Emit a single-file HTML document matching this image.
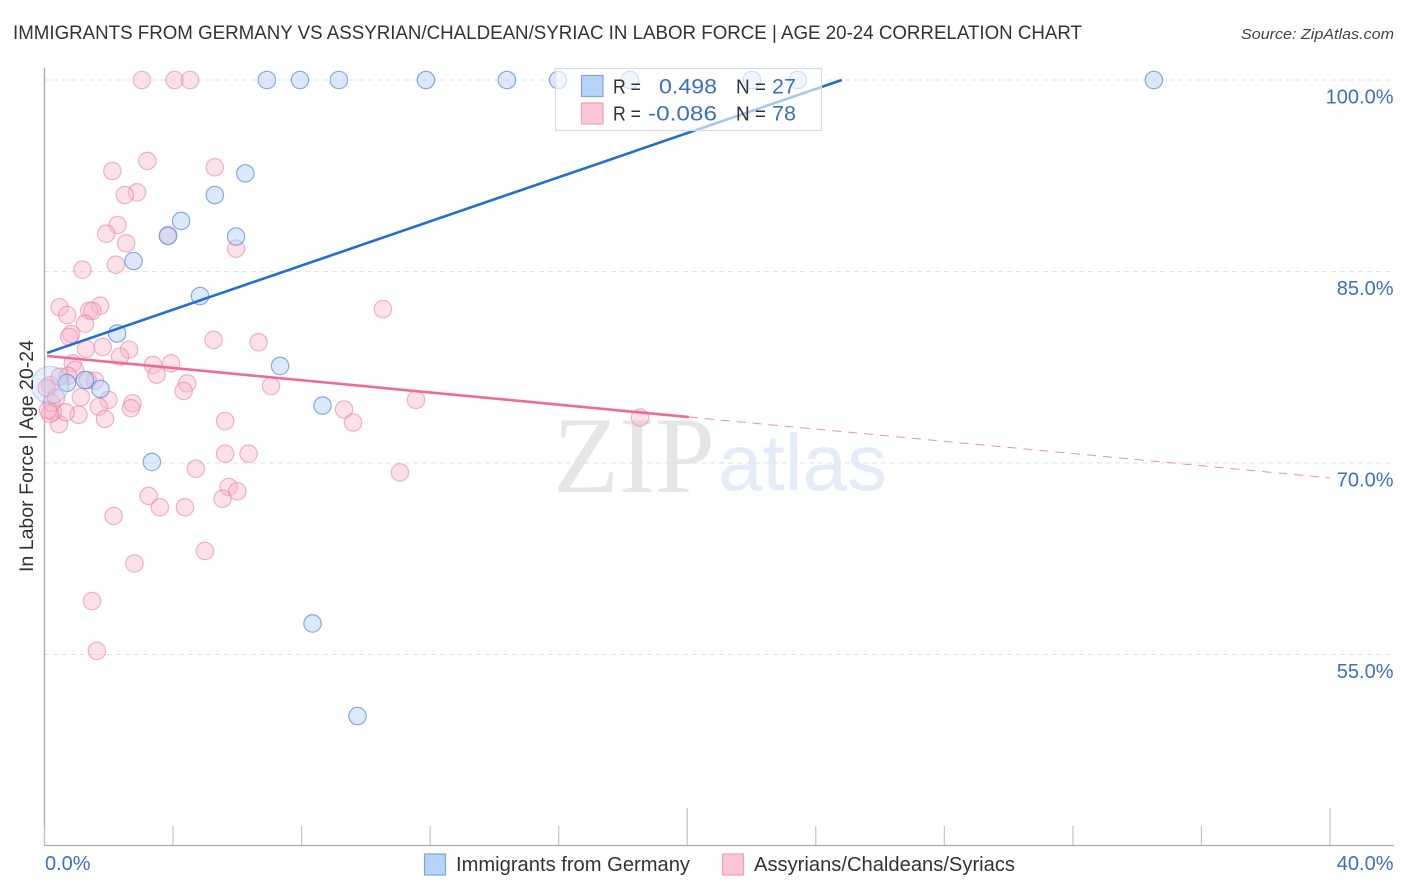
<!DOCTYPE html>
<html lang="en">
<head>
<meta charset="utf-8">
<title>Immigrants from Germany vs Assyrian/Chaldean/Syriac in Labor Force | Age 20-24 Correlation Chart</title>
<style>
html,body{margin:0;padding:0;background:#fff;}
svg{display:block;font-family:"Liberation Sans",sans-serif;}
</style>
</head>
<body>
<svg id="chart" xmlns="http://www.w3.org/2000/svg" width="1406" height="892" viewBox="0 0 1406 892">
  <rect width="1406" height="892" fill="#fff"/>
  <text x="13" y="39" font-size="19.5" fill="#333" textLength="1069" lengthAdjust="spacingAndGlyphs">IMMIGRANTS FROM GERMANY VS ASSYRIAN/CHALDEAN/SYRIAC IN LABOR FORCE | AGE 20-24 CORRELATION CHART</text>
  <text x="1241" y="39" font-size="15" font-style="italic" fill="#444" textLength="153" lengthAdjust="spacingAndGlyphs">Source: ZipAtlas.com</text>
  <g id="watermark">
    <text x="553" y="492" font-family="'Liberation Serif',serif" font-size="109" fill="#e6e6e6" textLength="162" lengthAdjust="spacingAndGlyphs">ZIP</text>
    <text x="718" y="490" font-size="80" fill="#e4ecfa" textLength="169" lengthAdjust="spacingAndGlyphs">atlas</text>
  </g>
  <g id="grid"></g>
  <g id="axes"></g>
  <g id="points"></g>
  <g id="trends"></g>
  <text transform="translate(33,456) rotate(-90)" text-anchor="middle" font-size="19" fill="#333" textLength="232" lengthAdjust="spacingAndGlyphs">In Labor Force | Age 20-24</text>

  <g>
    <rect x="555.5" y="68.5" width="266" height="62" fill="#fff" fill-opacity="0.62" stroke="#dcdcdc" stroke-width="1.2"/>
    <rect x="581.5" y="75.5" width="21.5" height="21" fill="#b6d3f8" stroke="#7ba5e4" stroke-width="1.2"/>
    <rect x="581.5" y="103" width="21.5" height="21" fill="#fcc6d8" stroke="#f0a0bd" stroke-width="1.2"/>
    <text x="613" y="93.5" font-size="20" fill="#333" textLength="28" lengthAdjust="spacingAndGlyphs">R =</text>
    <text x="717" y="93.5" font-size="21.5" fill="#3b6fc8" text-anchor="end" textLength="58" lengthAdjust="spacingAndGlyphs">0.498</text>
    <text x="736" y="93.5" font-size="20" fill="#333" textLength="30" lengthAdjust="spacingAndGlyphs">N =</text>
    <text x="772" y="93.5" font-size="21.5" fill="#3b6fc8">27</text>
    <text x="613" y="120.5" font-size="20" fill="#333" textLength="28" lengthAdjust="spacingAndGlyphs">R =</text>
    <text x="717" y="120.5" font-size="21.5" fill="#3b6fc8" text-anchor="end" textLength="69" lengthAdjust="spacingAndGlyphs">-0.086</text>
    <text x="736" y="120.5" font-size="20" fill="#333" textLength="30" lengthAdjust="spacingAndGlyphs">N =</text>
    <text x="772" y="120.5" font-size="21.5" fill="#3b6fc8">78</text>
  </g>

  <g>
    <rect x="424.5" y="854" width="21" height="21" fill="#b6d3f8" stroke="#7ba5e4" stroke-width="1.2"/>
    <text x="456" y="871" font-size="20" fill="#333" textLength="234" lengthAdjust="spacingAndGlyphs">Immigrants from Germany</text>
    <rect x="722.5" y="854" width="21" height="21" fill="#fcc6d8" stroke="#f0a0bd" stroke-width="1.2"/>
    <text x="754" y="871" font-size="20" fill="#333" textLength="261" lengthAdjust="spacingAndGlyphs">Assyrians/Chaldeans/Syriacs</text>
  </g>
</svg>
<script>
var yTickValues = [100, 85, 70, 55];
var yTickLabels = ['100.0%', '85.0%', '70.0%', '55.0%'];
var xTickValues = [0, 4, 8, 12, 16, 20, 24, 28, 32, 36, 40];
var xMajorTicks = [20, 40];
var xEndLabels = ['0.0%', '40.0%'];

var germanyX = [6.92,7.95,9.16,11.87,14.39,15.98,18.22,22.01,23.44,34.52,6.25,5.30,4.25,3.84,5.96,2.77,4.84,2.26,7.33,8.65,1.74,1.26,0.70,0.17,3.34,8.34,9.74];
var germanyY = [100,100,100,100,100,100,100,100,100,100,92.68,90.99,88.96,87.78,87.74,85.82,83.08,80.14,77.60,74.50,75.80,76.50,76.27,76.11,70.08,57.43,50.18];
var germanyWeight = [1,1,1,1,1,1,1,1,1,1,1,1,1,1,1,1,1,1,1,1,1,1,1,4.6,1,1,1];

var assyrianX = [3.03,4.05,4.53,3.20,2.11,5.30,2.88,2.50,2.27,1.92,2.54,3.85,5.96,2.22,1.18,0.47,0.71,1.73,1.39,1.49,1.26,0.83,0.77,1.29,1.81,2.63,2.35,5.26,6.66,10.53,0.88,0.95,0.73,3.37,3.94,3.49,4.44,4.33,7.05,1.13,1.99,1.69,2.74,2.69,1.88,1.06,0.45,0.66,0.26,0.17,0.22,1.57,1.34,0.17,0.48,5.62,5.62,6.35,4.71,5.73,6.00,5.54,3.24,3.59,4.37,2.15,9.32,9.60,11.56,11.06,18.53,4.99,2.80,1.48,1.63,0.06,0.36,0.11];
var assyrianY = [100,100,100,93.66,92.87,93.16,91.20,90.99,88.64,87.96,87.21,87.86,86.79,85.53,85.14,82.20,81.59,82.32,81.93,81.91,80.91,80.10,79.89,78.95,79.09,78.88,78.33,79.64,79.46,82.06,77.81,77.29,76.82,77.68,77.81,76.92,76.24,75.64,76.03,75.15,74.94,74.41,74.68,74.29,73.45,73.78,73.03,73.97,74.00,73.84,74.70,76.45,76.50,76.11,76.76,73.29,70.73,70.73,69.55,68.12,67.78,67.20,67.42,66.53,66.53,65.85,74.19,73.17,74.94,69.26,73.56,63.11,62.13,59.19,55.28,75.88,75.09,74.15];

var germanyTrendX = [0.08, 24.81];
var germanyTrendY = [78.62, 100];
var assyrianTrendX = [0.08, 20.05, 40];
var assyrianTrendY = [78.38, 73.60, 68.83];

var SVG_NS = 'http://www.w3.org/2000/svg';
function xScale(v) { return 44.5 + v * (1330 - 44.5) / 40; }
function yScale(v) { return 80 + (100 - v) * (654.5 - 80) / 45; }
function make(tag, parentId, attrs) {
  var el = document.createElementNS(SVG_NS, tag);
  for (var k in attrs) { el.setAttribute(k, attrs[k]); }
  document.getElementById(parentId).appendChild(el);
  return el;
}

yTickValues.forEach(function (v, i) {
  var line = make('line', 'grid', {x1: 44, x2: 1394, y1: yScale(v), y2: yScale(v), stroke: '#e2e2e2', 'stroke-width': 1, 'stroke-dasharray': '5 4'});
  
  
  var label = make('text', 'axes', {x: 1393.5, y: yScale(v) + 23.5, 'text-anchor': 'end', 'font-size': 20, fill: '#3b6fc8'});
  label.textContent = yTickLabels[i];
  
  
});

var yAxis = make('line', 'axes', {x1: 44.5, x2: 44.5, y1: 68, y2: 846, stroke: '#aaa', 'stroke-width': 1.3});


var xAxis = make('line', 'axes', {x1: 44, x2: 1394, y1: 845.5, y2: 845.5, stroke: '#aaa', 'stroke-width': 1.3});



xTickValues.forEach(function (v) {
  var top = xMajorTicks.indexOf(v) >= 0 ? 808 : 826;
  var tick = make('line', 'axes', {x1: xScale(v), x2: xScale(v), y1: top, y2: 845, stroke: '#c4c4c4', 'stroke-width': 1.2});
  
  
});

var xLabelLeft = make('text', 'axes', {x: 45, y: 870, 'font-size': 20, fill: '#3b6fc8'});
xLabelLeft.textContent = xEndLabels[0];


var xLabelRight = make('text', 'axes', {x: 1393.5, y: 870, 'text-anchor': 'end', 'font-size': 20, fill: '#3b6fc8'});
xLabelRight.textContent = xEndLabels[1];



assyrianX.forEach(function (v, i) {
  var c = make('circle', 'points', {cx: xScale(v), cy: yScale(assyrianY[i]), r: 8.7, fill: '#f9b6cc', 'fill-opacity': 0.42, stroke: '#e77ba2', 'stroke-opacity': 0.55, 'stroke-width': 1.2});
  
  
});
germanyX.forEach(function (v, i) {
  var c = make('circle', 'points', {cx: xScale(v), cy: yScale(germanyY[i]), r: 8.7 * Math.sqrt(germanyWeight[i]), fill: '#b3d0f7', 'fill-opacity': 0.48 / Math.sqrt(Math.sqrt(germanyWeight[i])), stroke: '#5b8edb', 'stroke-opacity': 0.72 / Math.sqrt(germanyWeight[i]), 'stroke-width': 1.2});
  
  
});

var blueLine = make('line', 'trends', {x1: xScale(germanyTrendX[0]), y1: yScale(germanyTrendY[0]), x2: xScale(germanyTrendX[1]), y2: yScale(germanyTrendY[1]), stroke: '#1f6fd6', 'stroke-width': 2.6});


var pinkLine = make('line', 'trends', {x1: xScale(assyrianTrendX[0]), y1: yScale(assyrianTrendY[0]), x2: xScale(assyrianTrendX[1]), y2: yScale(assyrianTrendY[1]), stroke: '#ee6a99', 'stroke-width': 2.6});


var pinkDash = make('line', 'trends', {x1: xScale(assyrianTrendX[1]), y1: yScale(assyrianTrendY[1]), x2: xScale(assyrianTrendX[2]), y2: yScale(assyrianTrendY[2]), stroke: '#ee8fb0', 'stroke-width': 1, 'stroke-dasharray': '9 7'});


</script>
</body>
</html>
